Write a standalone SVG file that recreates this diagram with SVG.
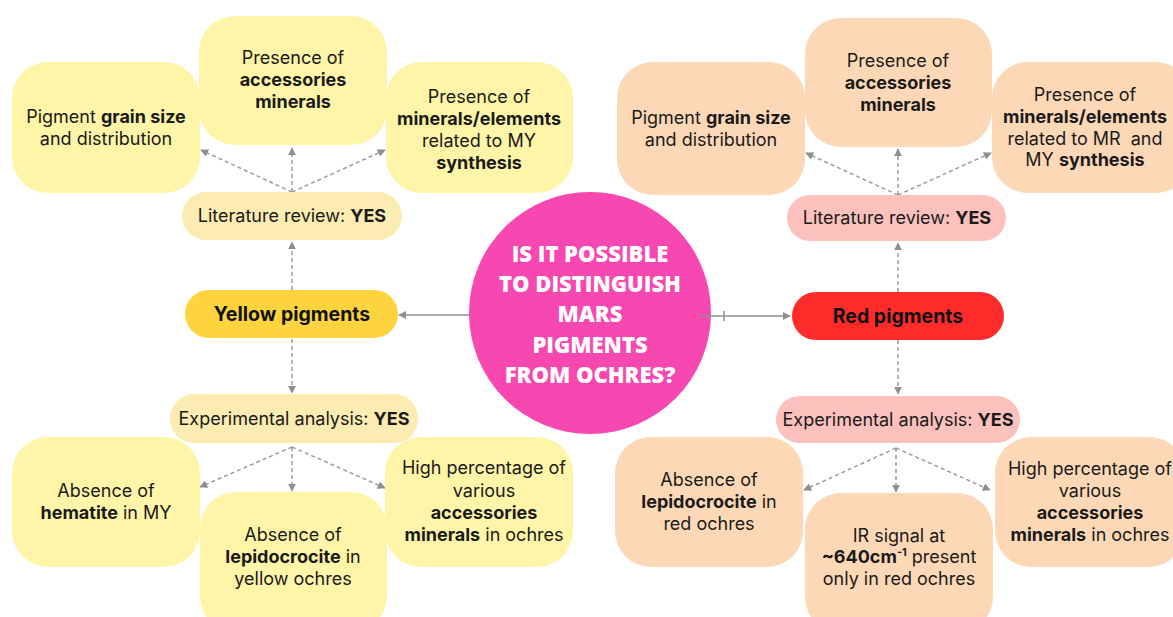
<svg xmlns="http://www.w3.org/2000/svg" width="1173" height="617" viewBox="0 0 1173 617">
<style>
.t{font-family:Inter,"Noto Sans","Liberation Sans",sans-serif;font-size:18px;fill:#1a1a1a;text-anchor:middle}
.b{font-weight:700}
.big{font-family:Inter,"Liberation Sans",sans-serif;font-size:19.5px;font-weight:700;fill:#111;text-anchor:middle}
.q{font-family:"Open Sans","Liberation Sans",sans-serif;font-size:22px;font-weight:800;fill:#fff;text-anchor:middle}
.y{fill:#FFF5A8}
.yl{fill:#FCECB1}
.p{fill:#FDD8B6}
.pk{fill:#FCC1BC}
.dash{fill:none;stroke:#9B9B9B;stroke-width:1.5;stroke-dasharray:4 3}
.sol{fill:none;stroke:#8F8F8F;stroke-width:1.5}
</style>
<defs>
<marker id="ah" viewBox="0 0 10 10" refX="9" refY="5" markerWidth="8" markerHeight="8" markerUnits="userSpaceOnUse" orient="auto">
<path d="M0,0 L10,5 L0,10 z" fill="#8F8F8F"/>
</marker>
</defs>
<rect width="1173" height="617" fill="#fff"/>

<g id="connectors">
<line class="dash" x1="292" y1="192" x2="292" y2="148" marker-end="url(#ah)"/>
<line class="dash" x1="292" y1="192" x2="201" y2="150" marker-end="url(#ah)"/>
<line class="dash" x1="292" y1="192" x2="385" y2="150" marker-end="url(#ah)"/>
<line class="dash" x1="292" y1="290" x2="292" y2="242" marker-end="url(#ah)"/>
<line class="dash" x1="292" y1="339" x2="292" y2="393" marker-end="url(#ah)"/>
<line class="dash" x1="292" y1="447" x2="200" y2="487" marker-end="url(#ah)"/>
<line class="dash" x1="292" y1="447" x2="292" y2="491" marker-end="url(#ah)"/>
<line class="dash" x1="292" y1="447" x2="385" y2="488" marker-end="url(#ah)"/>
<line class="dash" x1="898" y1="195" x2="898" y2="149" marker-end="url(#ah)"/>
<line class="dash" x1="898" y1="195" x2="806" y2="153" marker-end="url(#ah)"/>
<line class="dash" x1="898" y1="195" x2="991" y2="153" marker-end="url(#ah)"/>
<line class="dash" x1="898" y1="292" x2="898" y2="243" marker-end="url(#ah)"/>
<line class="dash" x1="898" y1="340" x2="898" y2="394" marker-end="url(#ah)"/>
<line class="dash" x1="896" y1="448" x2="804" y2="490" marker-end="url(#ah)"/>
<line class="dash" x1="896" y1="448" x2="896" y2="492" marker-end="url(#ah)"/>
<line class="dash" x1="896" y1="448" x2="990" y2="490" marker-end="url(#ah)"/>
</g>

<g id="left-grain">
<rect class="y" x="12" y="62" width="188" height="131" rx="36"/>
<text class="t" x="106" y="123">Pigment <tspan class="b">grain size</tspan></text>
<text class="t" x="106" y="145">and distribution</text>
</g>
<g id="left-accessories">
<rect class="y" x="199" y="16" width="188" height="129" rx="36"/>
<text class="t" x="293" y="64">Presence of</text>
<text class="t b" x="293" y="86">accessories</text>
<text class="t b" x="293" y="108">minerals</text>
</g>
<g id="left-minerals">
<rect class="y" x="386" y="62" width="187" height="131" rx="36"/>
<text class="t" x="479" y="103">Presence of</text>
<text class="t b" x="479" y="125">minerals/elements</text>
<text class="t" x="479" y="147">related to MY</text>
<text class="t b" x="479" y="169">synthesis</text>
</g>
<g id="left-literature">
<rect class="yl" x="182" y="192" width="220" height="48" rx="24"/>
<text class="t" x="292" y="222">Literature review: <tspan class="b">YES</tspan></text>
</g>
<g id="yellow-pigments">
<rect x="185" y="290" width="213" height="48" rx="24" fill="#FDD43E"/>
<text class="big" x="292" y="321">Yellow pigments</text>
</g>
<g id="left-experimental">
<rect class="yl" x="170" y="394" width="248" height="49" rx="24"/>
<text class="t" x="294" y="425">Experimental analysis: <tspan class="b">YES</tspan></text>
</g>
<g id="left-hematite">
<rect class="y" x="12" y="437" width="188" height="130" rx="36"/>
<text class="t" x="106" y="497">Absence of</text>
<text class="t" x="106" y="519"><tspan class="b">hematite</tspan> in MY</text>
</g>
<g id="left-lepidocrocite">
<rect class="y" x="200" y="492" width="187" height="140" rx="36"/>
<text class="t" x="293" y="541">Absence of</text>
<text class="t" x="293" y="563"><tspan class="b">lepidocrocite</tspan> in</text>
<text class="t" x="293" y="585">yellow ochres</text>
</g>
<g id="left-high">
<rect class="y" x="385" y="437" width="188" height="130" rx="36"/>
<text class="t" x="484" y="474">High percentage of</text>
<text class="t" x="484" y="497">various</text>
<text class="t b" x="484" y="519">accessories</text>
<text class="t" x="484" y="541"><tspan class="b">minerals</tspan> in ochres</text>
</g>

<g id="center-question">
<line class="sol" x1="470" y1="315" x2="399" y2="315" marker-end="url(#ah)"/>
<circle cx="590" cy="313" r="121" fill="#F748B1"/>
<line class="sol" x1="700" y1="316" x2="790" y2="316" marker-end="url(#ah)"/>
<line class="sol" x1="724" y1="311" x2="724" y2="321"/>
<text class="q" x="590" y="262">IS IT POSSIBLE</text>
<text class="q" x="590" y="292">TO DISTINGUISH</text>
<text class="q" x="590" y="322">MARS</text>
<text class="q" x="590" y="353">PIGMENTS</text>
<text class="q" x="590" y="383">FROM OCHRES?</text>
</g>

<g id="right-grain">
<rect class="p" x="617" y="62" width="188" height="133" rx="36"/>
<text class="t" x="711" y="124">Pigment <tspan class="b">grain size</tspan></text>
<text class="t" x="711" y="146">and distribution</text>
</g>
<g id="right-accessories">
<rect class="p" x="805" y="18" width="187" height="129" rx="36"/>
<text class="t" x="898" y="67">Presence of</text>
<text class="t b" x="898" y="89">accessories</text>
<text class="t b" x="898" y="111">minerals</text>
</g>
<g id="right-minerals">
<rect class="p" x="992" y="62" width="200" height="131" rx="36"/>
<text class="t" x="1085" y="101">Presence of</text>
<text class="t b" x="1085" y="123">minerals/elements</text>
<text class="t" x="1085" y="145" xml:space="preserve">related to MR  and</text>
<text class="t" x="1085" y="166">MY <tspan class="b">synthesis</tspan></text>
</g>
<g id="right-literature">
<rect class="pk" x="787" y="195" width="219" height="46" rx="23"/>
<text class="t" x="897" y="224">Literature review: <tspan class="b">YES</tspan></text>
</g>
<g id="red-pigments">
<rect x="792" y="292" width="212" height="48" rx="24" fill="#FF2A2A"/>
<text class="big" x="898" y="323">Red pigments</text>
</g>
<g id="right-experimental">
<rect class="pk" x="776" y="396" width="244" height="47" rx="23.5"/>
<text class="t" x="898" y="426">Experimental analysis: <tspan class="b">YES</tspan></text>
</g>
<g id="right-lepidocrocite">
<rect class="p" x="615" y="437" width="188" height="130" rx="36"/>
<text class="t" x="709" y="486">Absence of</text>
<text class="t" x="709" y="508"><tspan class="b">lepidocrocite</tspan> in</text>
<text class="t" x="709" y="530">red ochres</text>
</g>
<g id="right-ir">
<rect class="p" x="805" y="493" width="188" height="140" rx="36"/>
<text class="t" x="899" y="542">IR signal at</text>
<text class="t" x="899" y="563"><tspan class="b">~640cm</tspan><tspan class="b" font-size="11" dy="-7">-1</tspan><tspan dy="7"> present</tspan></text>
<text class="t" x="899" y="585">only in red ochres</text>
</g>
<g id="right-high">
<rect class="p" x="995" y="437" width="190" height="130" rx="36"/>
<text class="t" x="1090" y="475">High percentage of</text>
<text class="t" x="1090" y="497">various</text>
<text class="t b" x="1090" y="519">accessories</text>
<text class="t" x="1090" y="541"><tspan class="b">minerals</tspan> in ochres</text>
</g>
</svg>
